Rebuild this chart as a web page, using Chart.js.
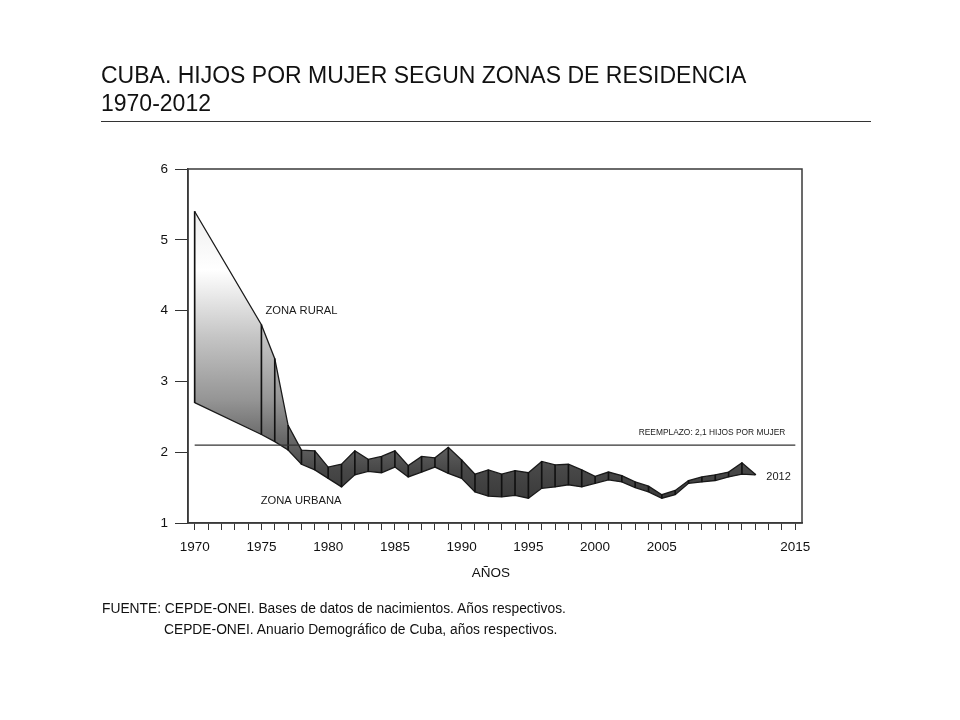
<!DOCTYPE html>
<html>
<head>
<meta charset="utf-8">
<script src="https://cdn.jsdelivr.net/npm/chart.js@4"></script>
<style>
  html, body { margin: 0; padding: 0; background: #fff; }
  #wrap { position: relative; width: 960px; height: 720px; overflow: hidden; font-family: "Liberation Sans", Arial, sans-serif; color: #111; }
  #c { position: absolute; left: 0; top: 0; }
  .t { position: absolute; white-space: nowrap; }
  #title { left: 101px; top: 61px; font-size: 23px; line-height: 28px; }
  #rule { position: absolute; left: 101px; top: 121px; width: 770px; height: 0; border-top: 1.5px solid #333; }
  #xtitle { left: 0; width: 982px; text-align: center; top: 565px; font-size: 13.5px; }
  #src1 { left: 102px; top: 601px; font-size: 13.8px; }
  #src2 { left: 164px; top: 622px; font-size: 13.8px; }
</style>
</head>
<body>
<div id="wrap">
  <canvas id="c" width="960" height="720"></canvas>
  <div class="t" id="title">CUBA. HIJOS POR MUJER SEGUN ZONAS DE RESIDENCIA<br>1970-2012</div>
  <div id="rule"></div>
  <div class="t" id="xtitle">AÑOS</div>
  <div class="t" id="src1">FUENTE: CEPDE-ONEI. Bases de datos de nacimientos. Años respectivos.</div>
  <div class="t" id="src2">CEPDE-ONEI. Anuario Demográfico de Cuba, años respectivos.</div>
</div>
<script>
// ---- data ----
const years = [1970, 1975, 1976, 1977, 1978, 1979, 1980, 1981, 1982, 1983, 1984, 1985, 1986, 1987, 1988, 1989, 1990,
  1991, 1992, 1993, 1994, 1995, 1996, 1997, 1998, 1999, 2000, 2001, 2002, 2003, 2004, 2005, 2006, 2007, 2008, 2009,
  2010, 2011, 2012];
const rural = [5.40, 3.80, 3.32, 2.38, 2.03, 2.02, 1.79, 1.83, 2.02, 1.90, 1.94, 2.02, 1.81, 1.94, 1.92, 2.07, 1.89,
  1.69, 1.75, 1.69, 1.74, 1.71, 1.87, 1.82, 1.83, 1.75, 1.66, 1.72, 1.67, 1.58, 1.52, 1.40, 1.46, 1.60, 1.65, 1.68,
  1.72, 1.85, 1.69];
const urbana = [2.70, 2.25, 2.15, 2.03, 1.83, 1.75, 1.63, 1.51, 1.68, 1.73, 1.71, 1.79, 1.65, 1.72, 1.79, 1.70, 1.63,
  1.44, 1.38, 1.37, 1.39, 1.35, 1.49, 1.51, 1.54, 1.51, 1.56, 1.61, 1.58, 1.50, 1.44, 1.35, 1.40, 1.56, 1.58, 1.60,
  1.65, 1.69, 1.68];
const reemplazo = 2.1;
const refYears = [1970, 2015];
const tickFirstYear = 1970;
const tickLastYear = 2015;
const labelYears = [1970, 1975, 1980, 1985, 1990, 1995, 2000, 2005, 2015];
const yTicks = [1, 2, 3, 4, 5, 6];

const annotations = [
  { text: 'ZONA RURAL', x: 1975.3, y: 4.0, size: 11.2, align: 'left' },
  { text: 'ZONA URBANA', x: 1974.95, y: 1.31, size: 11.2, align: 'left' },
  { text: 'REEMPLAZO: 2,1 HIJOS POR MUJER', x: 2014.25, y: 2.27, size: 8.4, align: 'right' },
  { text: '2012', x: 2012.83, y: 1.65, size: 11, align: 'left' }
];

const FONT = '"Liberation Sans", Arial, sans-serif';

function bandGradient(context) {
  const chart = context.chart;
  const area = chart.chartArea;
  if (!area) return '#3c3c3c';
  const ctx = chart.ctx;
  const g = ctx.createLinearGradient(0, 205, 0, 500);
  g.addColorStop(0.00, '#ececec');
  g.addColorStop(0.22, '#ffffff');
  g.addColorStop(0.45, '#c4c4c4');
  g.addColorStop(0.66, '#959595');
  g.addColorStop(0.80, '#666666');
  g.addColorStop(0.90, '#474747');
  g.addColorStop(1.00, '#3a3a3a');
  return g;
}

const boxPlugin = {
  id: 'boxAndText',
  afterDatasetsDraw(chart) {
    const { ctx, chartArea: a, scales } = chart;
    ctx.save();
    ctx.strokeStyle = '#3a3a3a';
    ctx.lineWidth = 1.5;
    ctx.strokeRect(a.left, a.top, a.right - a.left, a.bottom - a.top);
    ctx.fillStyle = '#1a1a1a';
    ctx.textBaseline = 'middle';
    annotations.forEach(an => {
      ctx.font = an.size + 'px ' + FONT;
      ctx.textAlign = an.align;
      ctx.fillText(an.text, scales.x.getPixelForValue(an.x), scales.y.getPixelForValue(an.y));
    });
    ctx.restore();
  }
};

new Chart(document.getElementById('c'), {
  type: 'line',
  data: {
    datasets: [
      {
        label: 'Zona rural',
        data: years.map((y, i) => ({ x: y, y: rural[i] })),
        borderColor: '#1a1a1a',
        borderWidth: 1.3,
        pointRadius: 0,
        tension: 0,
        fill: '+1',
        backgroundColor: bandGradient,
        order: 3
      },
      {
        label: 'Zona urbana',
        data: years.map((y, i) => ({ x: y, y: urbana[i] })),
        borderColor: '#1a1a1a',
        borderWidth: 1.3,
        pointRadius: 0,
        tension: 0,
        fill: false,
        order: 2
      },
      {
        type: 'bar',
        label: 'rango',
        data: years.map((y, i) => ({ x: y, y: [urbana[i], rural[i]] })),
        backgroundColor: '#111',
        borderWidth: 0,
        barThickness: 1,
        order: 1
      },
      {
        label: 'Reemplazo',
        data: refYears.map(y => ({ x: y, y: reemplazo })),
        borderColor: '#333',
        borderWidth: 1.2,
        pointRadius: 0,
        fill: false,
        order: 0
      }
    ]
  },
  options: {
    responsive: false,
    animation: false,
    events: [],
    layout: { padding: { left: 0, top: 169, right: 158, bottom: 0 } },
    plugins: { legend: { display: false }, tooltip: { enabled: false } },
    scales: {
      x: {
        type: 'linear',
        min: 1969.5,
        max: 2015.5,
        offset: false,
        afterFit(s) { s.height = 197; },
        afterBuildTicks(s) {
          const t = [];
          for (let v = tickFirstYear; v <= tickLastYear; v++) t.push({ value: v });
          s.ticks = t;
        },
        ticks: {
          autoSkip: false,
          maxRotation: 0,
          minRotation: 0,
          padding: 9,
          color: '#111',
          font: { family: FONT, size: 13.5 },
          callback: v => labelYears.includes(Math.round(v)) ? String(Math.round(v)) : ''
        },
        grid: { offset: false, drawOnChartArea: false, drawTicks: true, tickLength: 7, color: '#333', lineWidth: 1 },
        border: { display: true, color: '#3a3a3a', width: 1.5 }
      },
      y: {
        min: 1,
        max: 6,
        afterFit(s) { s.width = 188; },
        afterBuildTicks(s) { s.ticks = yTicks.map(v => ({ value: v })); },
        ticks: {
          padding: 7,
          color: '#111',
          font: { family: FONT, size: 13.5 }
        },
        grid: { drawOnChartArea: false, drawTicks: true, tickLength: 13, color: '#333', lineWidth: 1 },
        border: { display: true, color: '#3a3a3a', width: 1.5 }
      }
    }
  },
  plugins: [boxPlugin]
});
</script>
</body>
</html>
